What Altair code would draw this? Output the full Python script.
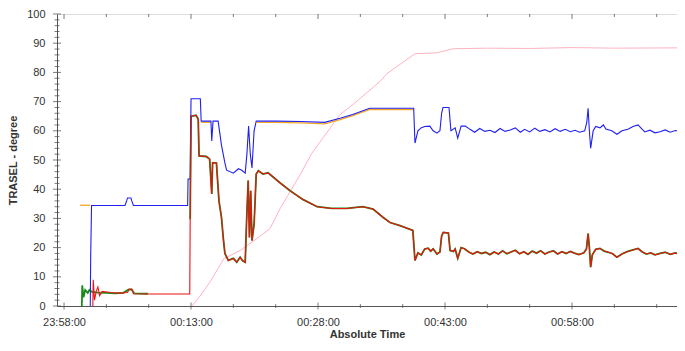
import altair as alt
import pandas as pd

# ---------------- data (minutes after 23:58:00, degrees) ----------------
blue_t = [3.10, 3.15, 3.25, 7.2, 7.4, 7.5, 7.9, 8.0, 8.2, 14.6, 14.65, 14.9, 15.0, 16.1, 16.2,
          17.35, 17.45, 17.6, 18.2, 18.6, 19.0, 19.2, 20.0, 20.6, 21.0, 21.4, 21.6, 21.8, 22.0,
          22.2, 22.45, 22.7, 25.0, 28.0, 30.8, 32.6, 34.1, 36.1, 41.3, 41.45,
          41.8, 42.16, 42.6, 43.2, 43.6, 44.05, 44.4, 44.6, 44.76, 45.47, 45.7, 46.2, 46.5, 46.9,
          47.4, 47.95, 48.5, 49.1, 49.7, 50.3, 50.9, 51.5, 52.1, 52.7, 53.3, 53.9, 54.4, 55.0,
          55.6, 56.2, 56.8, 57.4, 58.0, 58.6, 59.2, 59.8, 60.35, 60.9, 61.5, 61.75, 61.9, 62.05,
          62.2, 62.5, 62.8, 63.3, 63.7, 64.0, 64.7, 65.3, 65.9, 66.6, 67.2, 67.8, 68.3, 68.6,
          69.2, 69.8, 70.4, 71.0, 71.6, 72.2, 72.4]
blue_v = [0, 17, 34.4, 34.4, 36, 37, 37, 36, 34.4, 34.4, 43.5, 43.5, 71, 71, 63.3,
          63.3, 56.5, 63.3, 63.3, 55, 49, 46.5, 45.5, 47, 46.5, 45.5, 52, 61.6, 52,
          47.3, 60, 63.3, 63.3, 63.2, 62.9, 64.3, 65.6, 67.7, 67.7, 55.8,
          60, 61, 61.5, 61.6, 60, 59.2, 60, 66, 68, 68, 60, 61, 57.5, 61.6,
          61.6, 60.5, 59.5, 60.8, 59.8, 60.2, 59.4, 60.8, 59.8, 60.3, 61, 59.5, 60.5, 59.6,
          60.9, 59.8, 60.4, 59.6, 60.7, 59.8, 60.5, 59.7, 60.2, 59.5, 60, 63, 67.7, 60,
          54, 60, 61.5, 61, 62, 60.6, 60, 58.8, 60, 60.5, 61.5, 62, 60.5, 59.6,
          60.2, 59.3, 59.7, 60.3, 59.5, 60.1, 60]

red_t = [3.40, 3.45, 3.6, 3.8, 4.0, 4.2, 4.5, 5.5, 6.5, 7.5, 7.7, 8.0, 8.2, 10.0, 14.85,
         14.9, 15.0, 15.6, 15.85, 15.95, 16.8, 17.2, 17.45, 17.55, 18.0, 18.3, 18.6, 18.8,
         19.0, 19.4, 20.0, 20.4, 20.8, 21.1, 21.4, 21.55, 21.75, 21.9, 22.05, 22.2, 22.45,
         22.7, 22.95, 23.5, 24.1, 25.5, 26.7, 28.2, 29.9, 31.6, 33.4, 35.3, 36.5, 37.7, 38.5,
         39.7, 41.2, 41.45,
         41.8, 42.2, 42.6, 43.0, 43.3, 43.6, 44.05, 44.4, 44.6, 44.8, 45.4, 45.6, 46.0, 46.2,
         46.5, 46.9, 47.3, 47.8, 48.3, 48.8, 49.3, 49.8, 50.3, 50.8, 51.3, 51.8, 52.3, 52.8,
         53.3, 53.8, 54.3, 54.8, 55.3, 55.8, 56.3, 56.8, 57.3, 57.8, 58.3, 58.8, 59.3, 59.8,
         60.3, 60.8, 61.4, 61.7, 61.9, 62.05, 62.2, 62.4, 62.8, 63.3, 63.8, 64.3, 64.8, 65.3,
         65.9, 66.5, 67.2, 67.8, 68.3, 68.8, 69.3, 69.8, 70.4, 71.0, 71.6, 72.2, 72.4]
red_v = [0, 9, 2, 5, 6.5, 3.5, 5, 4.6, 4.4, 4.6, 5.8, 5.8, 4.2, 4.1, 4.1,
         30, 65, 65.3, 64, 51.4, 51.2, 50.3, 38.4, 49, 49, 36, 30.3, 23.5,
         18, 15.6, 16.3, 15, 16.7, 15.5, 15, 28, 43, 23.5, 39.5, 22.4, 28,
         45.2, 46.3, 45.2, 45.6, 42.2, 39.5, 36.5, 34, 33.4, 33.4, 34, 33.2, 30.3, 28.6,
         27.5, 25.9, 15.6,
         18.2, 17.5, 19.5, 19.8, 18.8, 19.6, 17.8, 18.5, 24.0, 25.2, 25.0, 19.0, 18.7, 19.5,
         16.3, 20.0, 19.6, 18.5, 17.8, 18.6, 18.0, 18.4, 17.6, 18.5, 17.8, 18.9, 17.9, 18.5,
         19.1, 17.9, 18.6, 17.7, 18.8, 18.1, 18.9, 17.8, 18.5, 18.9, 17.8, 18.6, 18.0, 18.7,
         18.1, 17.6, 18.2, 19.5, 24.8, 20, 13.3, 17.5, 19.4, 19.7, 18.8, 18.4, 17.9, 16.7,
         17.8, 18.6, 19.2, 19.7, 18.5, 17.8, 18.2, 17.5, 18.0, 18.4, 17.7, 18.2, 18.0]

green_early_t = [2.10, 2.15, 2.3, 2.5, 2.8, 3.0, 3.3, 4.0, 5.0, 6.0, 7.0, 7.6, 8.0, 8.3, 9.9]
green_early_v = [0, 7.1, 3, 5.5, 4.5, 5.5, 4.8, 4.6, 4.5, 4.3, 4.5, 5.6, 5.6, 4.3, 4.2]
# from 00:12:57 on the green trace lies under the red one
green_late_t = [14.95] + red_t[15:]
green_late_v = [30] + red_v[15:]

orange_seg_t = [[1.9, 3.1], [16.2, 17.3], [22.8, 25.0, 28.0, 30.8, 32.6, 34.1, 36.1, 41.3]]
orange_seg_v = [[34.5, 34.5], [62.9, 62.9], [62.9, 62.9, 62.7, 62.4, 63.8, 65.2, 67.3, 67.3]]

pink_t = [15.12, 16.06, 17.24, 18.9, 20.79, 22.79, 24.33, 25.51, 27.87, 29.29, 32.6, 34.13,
          37.32, 38.15, 41.46, 44.05, 45.94, 50.0, 55.0, 60.0, 65.0, 72.4]
pink_v = [0, 3.4, 8.2, 16.3, 19.0, 23.1, 26.5, 33.3, 44.9, 52.4, 65.6, 69.0,
          76.9, 79.6, 86.4, 86.7, 88.1, 88.3, 88.2, 88.5, 88.3, 88.4]

x_tick_values = [0, 15, 30, 45, 60]
x_tick_labels = ["23:58:00", "00:13:00", "00:28:00", "00:43:00", "00:58:00"]
x_minor_values = [5, 10, 20, 25, 35, 40, 50, 55, 65, 70]
y_tick_values = list(range(0, 101, 10))
y_minor_values = [v for v in range(0, 101, 2) if v % 10]
X_DOMAIN = [-0.83, 72.4]

# ---------------- build table ----------------
rows = []
def add(series, seg, ts, vs):
    for i, (t, v) in enumerate(zip(ts, vs)):
        rows.append({"series": series, "seg": f"{series}{seg}", "i": i, "t": t, "v": v})

add("pink", 0, pink_t, pink_v)
for k, (ts, vs) in enumerate(zip(orange_seg_t, orange_seg_v)):
    add("orange", k, ts, vs)
add("green", 0, green_early_t, green_early_v)
add("green", 1, green_late_t, green_late_v)
add("blue", 0, blue_t, blue_v)
add("red", 0, red_t, red_v)
df = pd.DataFrame(rows)

FONT = "Liberation Sans"
label_expr = " : ".join(f"datum.value == {v} ? '{l}'" for v, l in zip(x_tick_values, x_tick_labels)) + " : ''"

x_enc = alt.X("t:Q", scale=alt.Scale(domain=X_DOMAIN, nice=False, zero=False),
              axis=alt.Axis(values=x_tick_values, labelExpr=label_expr, ticks=False, grid=False,
                            title="Absolute Time", labelPadding=10, titlePadding=1,
                            domainColor="#555", labelColor="#333", titleColor="#333",
                            labelFont=FONT, titleFont=FONT, labelFontSize=11, titleFontSize=11,
                            titleFontWeight="bold"))
y_enc = alt.Y("v:Q", scale=alt.Scale(domain=[0, 100], nice=False),
              axis=alt.Axis(values=y_tick_values, ticks=False, grid=False,
                            title="TRASEL - degree", labelPadding=12, titlePadding=8,
                            domainColor="#555", labelColor="#333", titleColor="#333",
                            labelFont=FONT, titleFont=FONT, labelFontSize=11, titleFontSize=11,
                            titleFontWeight="bold"))

colors = {"pink": "#ffb3c1", "orange": "#f5a623", "green": "#1a8a1a", "blue": "#2020f0", "red": "#f01010"}
widths = {"pink": 1.0, "orange": 1.3, "green": 1.8, "blue": 1.1, "red": 1.1}

layers = []
for s in ["pink", "orange", "green", "blue", "red"]:
    layers.append(
        alt.Chart(df).transform_filter(alt.datum.series == s)
        .mark_line(color=colors[s], strokeWidth=widths[s])
        .encode(x=x_enc, y=y_enc, detail="seg:N", order="i:Q")
    )

ydf_major = pd.DataFrame({"v": y_tick_values})
ydf_minor = pd.DataFrame({"v": y_minor_values})
xdf_major = pd.DataFrame({"t": x_tick_values})
xdf_minor = pd.DataFrame({"t": x_minor_values})
W, H = 620, 292
TICK = "#444"
layers += [
    alt.Chart(ydf_major).mark_tick(size=8, thickness=1, color=TICK).encode(y=y_enc, x=alt.value(0)),
    alt.Chart(ydf_minor).mark_tick(size=5, thickness=1, color=TICK).encode(y=y_enc, x=alt.value(0)),
    alt.Chart(xdf_major).mark_tick(size=7, thickness=1, color=TICK).encode(x=x_enc, y=alt.value(H)),
    alt.Chart(xdf_minor).mark_tick(size=4, thickness=1, color=TICK).encode(x=x_enc, y=alt.value(H)),
    alt.Chart(xdf_major).mark_tick(size=5, thickness=1, color=TICK).encode(x=x_enc, y=alt.value(2.5)),
    alt.Chart(xdf_minor).mark_tick(size=3, thickness=1, color=TICK).encode(x=x_enc, y=alt.value(1.5)),
]

chart = (
    alt.layer(*layers)
    .properties(width=W, height=H,
                autosize=alt.AutoSizeParams(type="none"),
                padding={"left": 49, "top": 6, "right": 0, "bottom": 34})
    .configure_view(stroke="#9a9a9a", strokeWidth=1.5, cornerRadius=3)
    .configure(background="white")
)

chart.save("out.html", embed_options={"renderer": "svg", "actions": False})
